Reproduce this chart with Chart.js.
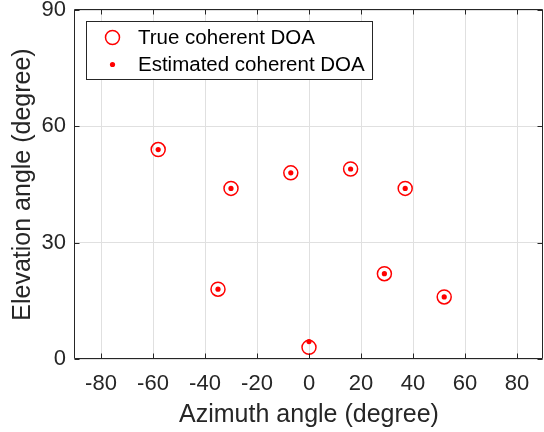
<!DOCTYPE html>
<html><head><meta charset="utf-8">
<script src="https://cdn.jsdelivr.net/npm/chart.js@4/dist/chart.umd.min.js"></script>
<style>html,body{margin:0;padding:0;background:#fff;}#wrap{width:544px;height:432px;}</style>
</head><body><div id="wrap"><canvas id="c" width="544" height="432"></canvas></div>
<script>
const azimuthTrue = [-58, -30, -35, -7, 0, 16, 29, 37, 52];
const elevationTrue = [54, 44, 18, 48, 3, 49, 22, 44, 16];
const azimuthEst = [-58, -30, -35, -7, 0, 16, 29, 37, 52];
const elevationEst = [54, 44, 18, 48, 4.5, 49, 22, 44, 16];
const xTicks = [-80, -60, -40, -20, 0, 20, 40, 60, 80];
const yTicks = [0, 30, 60, 90];
const seriesNames = ['True coherent DOA', 'Estimated coherent DOA'];
const xTitle = 'Azimuth angle (degree)';
const yTitle = 'Elevation angle (degree)';

const FONT = '"Liberation Sans", Arial, Helvetica, sans-serif';
const AX = '#262626';
const GRID = '#e0e0e0';

const boxPlugin = {
  id: 'boxPlugin',
  afterDraw(chart) {
    const ctx = chart.ctx;
    const a = chart.chartArea;
    const xs = chart.scales.x, ys = chart.scales.y;
    ctx.save();
    ctx.strokeStyle = AX;
    ctx.lineWidth = 1;
    const L = Math.round(a.left) - 0.5, R = Math.round(a.right) - 0.5;
    const T = Math.round(a.top) - 0.5, B = Math.round(a.bottom) - 0.5;
    ctx.beginPath();
    ctx.rect(L, T, R - L, B - T);
    ctx.stroke();
    const tl = 5;
    ctx.beginPath();
    xTicks.forEach(v => {
      const px = Math.round(xs.getPixelForValue(v)) + 0.5;
      ctx.moveTo(px, B); ctx.lineTo(px, B - tl);
      ctx.moveTo(px, T); ctx.lineTo(px, T + tl);
    });
    yTicks.forEach(v => {
      const py = Math.round(ys.getPixelForValue(v)) + 0.5;
      ctx.moveTo(L, py); ctx.lineTo(L + tl, py);
      ctx.moveTo(R, py); ctx.lineTo(R - tl, py);
    });
    ctx.stroke();

    // legend
    const lx = 86.5, ly = 21.5, lw = 286, lh = 58;
    ctx.fillStyle = '#fff';
    ctx.fillRect(lx, ly, lw, lh);
    ctx.strokeStyle = AX;
    ctx.strokeRect(lx, ly, lw, lh);
    const ds = chart.data.datasets;
    const rows = [37.5, 64.5];
    ctx.font = '20.5px ' + FONT;
    ctx.textBaseline = 'middle';
    ctx.textAlign = 'left';
    ds.forEach((d, i) => {
      const cy = rows[i];
      ctx.beginPath();
      ctx.arc(112.5, cy, d.pointRadius, 0, Math.PI * 2);
      if (i === 0) { ctx.strokeStyle = d.borderColor; ctx.lineWidth = d.borderWidth; ctx.stroke(); }
      else { ctx.fillStyle = d.backgroundColor; ctx.fill(); }
      ctx.fillStyle = '#000';
      ctx.fillText(d.label, 138, cy + 1);
    });
    ctx.restore();
  }
};

new Chart(document.getElementById('c'), {
  type: 'scatter',
  data: {
    datasets: [
      {
        label: seriesNames[0],
        data: azimuthTrue.map((x, i) => ({ x, y: elevationTrue[i] })),
        pointStyle: 'circle',
        pointRadius: 7,
        pointHoverRadius: 7,
        borderColor: '#ff0000',
        backgroundColor: 'rgba(0,0,0,0)',
        borderWidth: 1.5
      },
      {
        label: seriesNames[1],
        data: azimuthEst.map((x, i) => ({ x, y: elevationEst[i] })),
        pointStyle: 'circle',
        pointRadius: 2.6,
        pointHoverRadius: 2.6,
        borderWidth: 0,
        borderColor: '#ff0000',
        backgroundColor: '#ff0000'
      }
    ]
  },
  options: {
    responsive: false,
    animation: false,
    devicePixelRatio: 1,
    layout: { autoPadding: false, padding: { top: 10, right: 1, left: 0, bottom: 0 } },
    plugins: { legend: { display: false }, tooltip: { enabled: false } },
    scales: {
      x: {
        type: 'linear', min: -90, max: 90,
        afterBuildTicks: (s) => { s.ticks = xTicks.map(v => ({ value: v })); },
        afterFit: (s) => { s.height = 73; s.paddingLeft = 0; s.paddingRight = 0; },
        grid: { color: GRID, lineWidth: 1, drawTicks: false },
        border: { display: false },
        ticks: { padding: 12, maxRotation: 0, autoSkip: false, color: AX, font: { family: FONT, size: 22 } },
        title: { display: true, text: xTitle, color: AX, font: { family: FONT, size: 25 }, padding: { top: 0, bottom: 1.5 } }
      },
      y: {
        type: 'linear', min: 0, max: 90,
        afterBuildTicks: (s) => { s.ticks = yTicks.map(v => ({ value: v })); },
        afterFit: (s) => { s.width = 75; s.paddingTop = 0; s.paddingBottom = 0; },
        grid: { color: GRID, lineWidth: 1, drawTicks: false },
        border: { display: false },
        ticks: { padding: 9, autoSkip: false, color: AX, font: { family: FONT, size: 22 } },
        title: { display: true, text: yTitle, color: AX, font: { family: FONT, size: 25 }, padding: { top: 8.5, bottom: 0 } }
      }
    }
  },
  plugins: [boxPlugin]
});
</script></body></html>
